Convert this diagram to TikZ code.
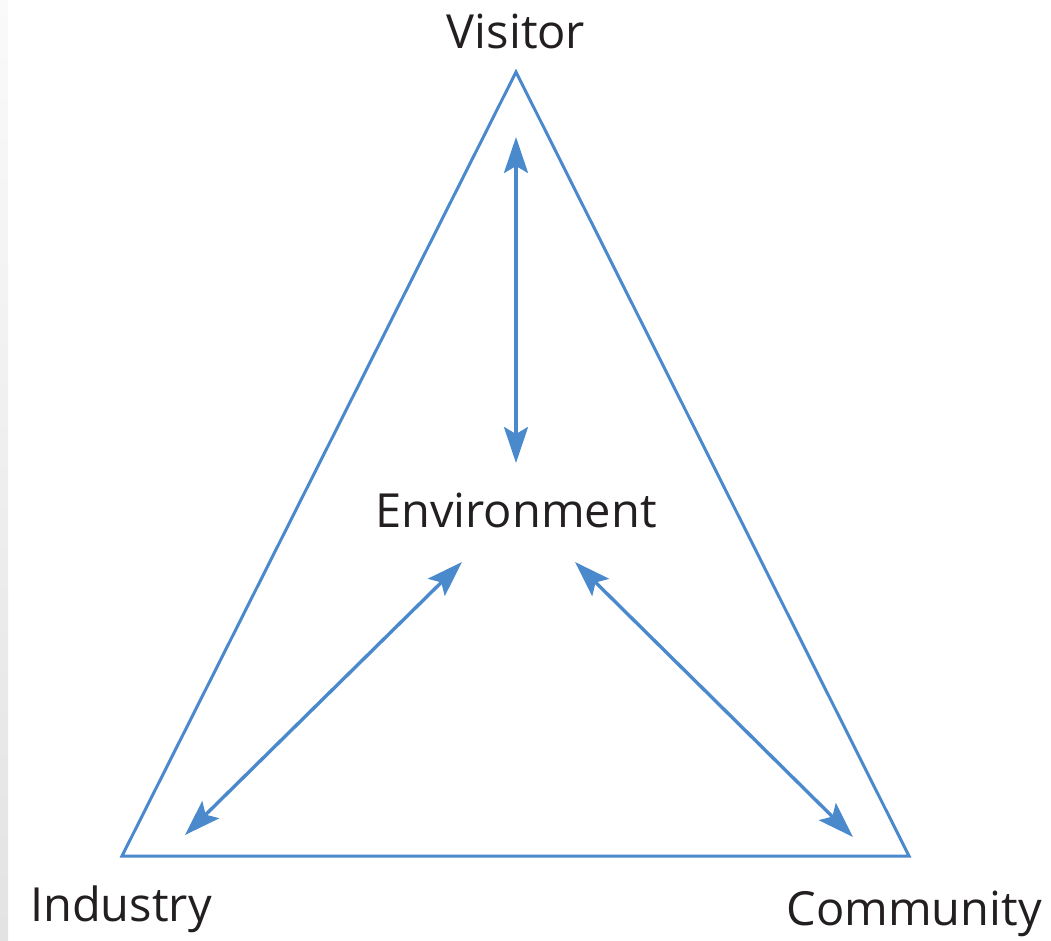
\documentclass[tikz,border=0pt]{standalone}
\usepackage{fontspec}
\setmainfont{Open Sans}
\usetikzlibrary{arrows.meta}
\definecolor{tri}{RGB}{74,137,204}
\definecolor{txt}{RGB}{35,31,32}
\begin{document}
\begin{tikzpicture}[x=1pt,y=-1pt,
  lbl/.style={text=txt,font=\fontsize{47}{51}\selectfont,inner sep=0pt},
  edge/.style={draw=tri,line width=3pt,line join=miter},
  dbl/.style={draw=tri,line width=3.4pt,>={Stealth[length=36pt,width=24pt,inset=7pt]},<->}]
\useasboundingbox (0,0) rectangle (1051,940);
\shade[top color=gray!4,bottom color=gray!22] (0,0) rectangle (8,940);
\coordinate (A) at (516,72);
\coordinate (B) at (122,856);
\coordinate (C) at (909,856);
\draw[edge] (A) -- (B) -- (C) -- cycle;
\node[lbl,anchor=base] (vis) at (516,48) {Visitor};
\node[lbl,anchor=base] (env) at (516,527) {Environment};
\node[lbl,anchor=base west] (ind) at (30,921) {Industry};
\node[lbl,anchor=base east] (com) at (1042,925) {Community};
\coordinate (v1) at (516,137);
\coordinate (v2) at (516,463);
\coordinate (l1) at (185,835);
\coordinate (l2) at (462,562);
\coordinate (r1) at (575,562);
\coordinate (r2) at (853,837);
\draw[dbl] (v1) -- (v2);
\draw[dbl] (l1) -- (l2);
\draw[dbl] (r1) -- (r2);
\end{tikzpicture}
\end{document}
